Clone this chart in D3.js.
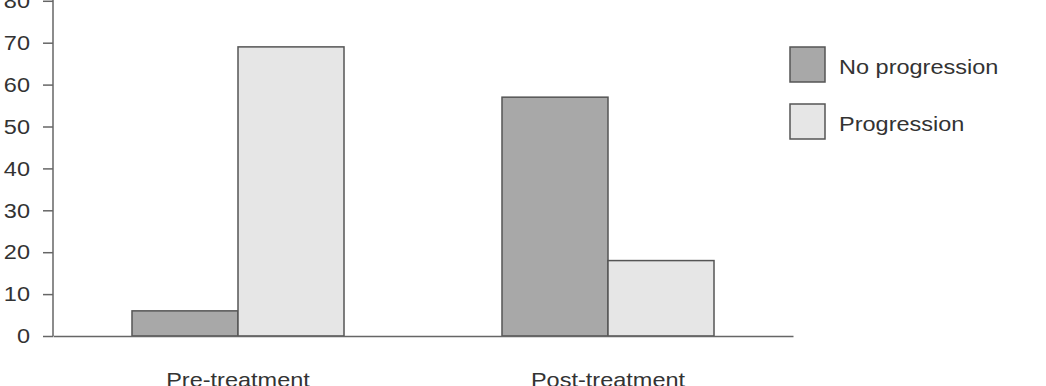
<!DOCTYPE html>
<html><head><meta charset="utf-8">
<script src="https://cdn.jsdelivr.net/npm/d3@7"></script>
<style>body{margin:0;background:#fff}svg{display:block}text{font-family:"Liberation Sans",Arial,sans-serif;fill:#333}</style>
</head><body><svg id="c" width="1046" height="386"></svg>
<script>
const categories = ["Pre-treatment", "Post-treatment"];
const seriesNames = ["No progression", "Progression"];
const noProgression = [6, 57];
const progression = [69, 18];
const yTicks = [0, 10, 20, 30, 40, 50, 60, 70, 80];
const colors = ["#a8a8a8", "#e6e6e6"];

const svg = d3.select("#c");
const fs = 21;
const sx = 1.12; // horizontal text stretch seen in the reference
const y = d3.scaleLinear().domain([0, 80]).range([336, 0.8]);
const x0 = d3.scaleBand().domain(categories).range([53, 793]).paddingInner(0.427).paddingOuter(0.2135);
const x1 = d3.scaleBand().domain(seriesNames).range([0, x0.bandwidth()]);
const values = [noProgression, progression];

function stretch(sel) {
  sel.each(function () {
    const t = d3.select(this);
    const xv = +t.attr("x") || 0;
    t.attr("x", xv / sx).attr("transform", `scale(${sx},1)`);
  });
}

// y axis
const ya = svg.append("g").attr("transform", "translate(53,0)")
  .call(d3.axisLeft(y).tickValues(yTicks).tickSize(10).tickPadding(13));
ya.select(".domain").attr("stroke", "#666").attr("stroke-width", 1.5).attr("d", "M0,0V336");
ya.selectAll(".tick line").attr("stroke", "#666").attr("stroke-width", 1.5);
ya.selectAll(".tick text").attr("font-size", fs).attr("font-family", "Liberation Sans, Arial, sans-serif").attr("fill", "#333").call(stretch);

// bars
const g = svg.append("g");
categories.forEach((c, i) => {
  seriesNames.forEach((s, j) => {
    g.append("rect")
      .attr("x", x0(c) + x1(s))
      .attr("y", y(values[j][i]))
      .attr("width", x1.bandwidth())
      .attr("height", y(0) - y(values[j][i]))
      .attr("fill", colors[j]).attr("stroke", "#555").attr("stroke-width", 1.5);
  });
});

// x axis
const xa = svg.append("g").attr("transform", "translate(0,336)")
  .call(d3.axisBottom(x0).tickSize(0).tickPadding(36));
xa.select(".domain").attr("stroke", "#666").attr("stroke-width", 1.5);
xa.selectAll(".tick text").attr("font-size", fs).attr("font-family", "Liberation Sans, Arial, sans-serif").attr("fill", "#333").call(stretch);

// legend
const lg = svg.append("g");
seriesNames.forEach((s, j) => {
  lg.append("rect").attr("x", 790).attr("y", 47 + j * 57).attr("width", 35).attr("height", 35)
    .attr("fill", colors[j]).attr("stroke", "#555").attr("stroke-width", 1.5);
  lg.append("text").attr("x", 839).attr("y", 74 + j * 57).attr("font-size", fs).text(s).call(stretch);
});
</script></body></html>
